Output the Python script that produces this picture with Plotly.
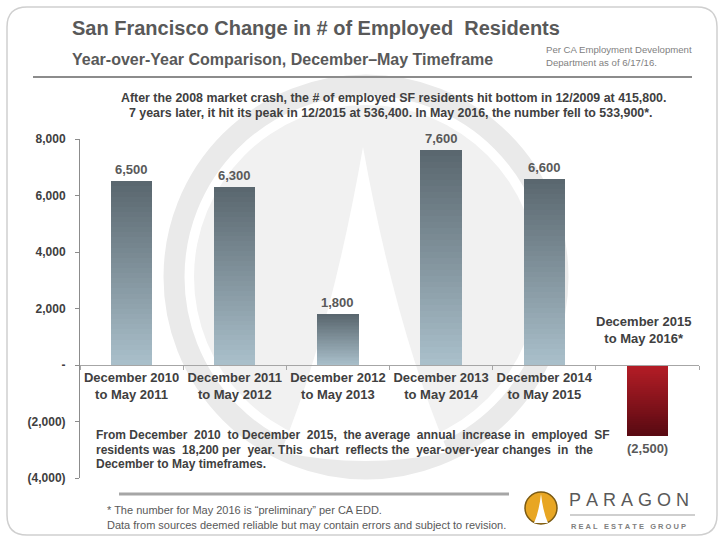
import plotly.graph_objects as go

# ---------------- data ----------------
periods = [
    "December 2010 to May 2011",
    "December 2011 to May 2012",
    "December 2012 to May 2013",
    "December 2013 to May 2014",
    "December 2014 to May 2015",
    "December 2015 to May 2016*",
]
tick_labels = [
    "December 2010<br>to May 2011",
    "December 2011<br>to May 2012",
    "December 2012<br>to May 2013",
    "December 2013<br>to May 2014",
    "December 2014<br>to May 2015",
    "",
]
last_label = "December 2015<br>to May 2016*"
values = [6500, 6300, 1800, 7600, 6600, -2500]
y_tickvals = [8000, 6000, 4000, 2000, 0, -2000, -4000]
y_ticktext = ["8,000", "6,000", "4,000", "2,000", "-", "(2,000)", "(4,000)"]

title = "San Francisco Change in # of Employed\u00a0 Residents"
subtitle = "Year-over-Year Comparison, December\u2013May Timeframe"
source_note = ["Per CA Employment Development", "Department as of 6/17/16."]
top_note = [
    "After the 2008 market crash, the # of employed SF residents hit bottom in 12/2009 at 415,800.",
    "7 years later, it hit its peak in 12/2015 at 536,400. In May 2016, the number fell to 533,900*.",
]
para = [
    "From December 2010 to December 2015, the average annual increase in employed SF",
    "residents was 18,200 per year. This chart reflects the year-over-year changes in the",
    "December to May timeframes.",
]
footnotes = [
    "* The number for May 2016 is \u201cpreliminary\u201d per CA EDD.",
    "Data from sources deemed reliable but may contain errors and subject to revision.",
]

# ---------------- layout geometry ----------------
W, H = 725, 544
ML, MR, MT, MB = 80, 26, 139, 66
PW, PH = W - ML - MR, H - MT - MB


def fx(p):
    return (p - ML) / PW


def fy(p):
    return (H - MB - p) / PH


FONT = "Liberation Sans, Arial, sans-serif"


def lerp(c1, c2, t):
    a = [int(c1[i:i + 2], 16) for i in (1, 3, 5)]
    b = [int(c2[i:i + 2], 16) for i in (1, 3, 5)]
    return "rgb(%d,%d,%d)" % tuple(round(a[j] + (b[j] - a[j]) * t) for j in range(3))


def justify(line, extra):
    """Widen a line by adding `extra` non-breaking spaces spread over its gaps."""
    words = line.split(" ")
    gaps = len(words) - 1
    out = words[0]
    for i in range(gaps):
        n_add = (extra * (i + 1)) // gaps - (extra * i) // gaps
        out += "\u00a0" * n_add + " " + words[i + 1]
    return out


GRAY_BOTTOM, GRAY_TOP = "#a9bfca", "#5a676f"
RED_NEAR, RED_FAR = "#b51d26", "#5a0a12"

fig = go.Figure()

# gradient bars built as stacked slices of each value
N = 36
for k in range(N):
    t = k / (N - 1)
    cols = [lerp(GRAY_BOTTOM, GRAY_TOP, t) if v >= 0 else lerp(RED_NEAR, RED_FAR, t) for v in values]
    fig.add_bar(
        x=periods,
        y=[v / N for v in values],
        marker=dict(color=cols, line=dict(width=0)),
        showlegend=False,
        hoverinfo="skip",
    )

ann = []
# value labels
for p, v in zip(periods, values):
    txt = f"{v:,}" if v >= 0 else f"({abs(v):,})"
    ann.append(dict(
        x=p, y=v, xref="x", yref="y", text=txt, showarrow=False,
        yanchor="bottom" if v >= 0 else "top", yshift=2 if v >= 0 else -3,
        font=dict(family=FONT, size=13, color="#595959", weight="bold"),
    ))
# label for the negative category (above the zero line)
ann.append(dict(
    x=periods[-1], y=0, xref="x", yref="y", text=last_label, showarrow=False,
    yanchor="bottom", yshift=17, xshift=-4,
    font=dict(family=FONT, size=13, color="#404040", weight="bold"),
))


def txt(x, y, s, size, color, bold=True, xanchor="left"):
    ann.append(dict(
        x=fx(x), y=fy(y), xref="paper", yref="paper", text=s, showarrow=False,
        xanchor=xanchor, yanchor="middle",
        font=dict(family=FONT, size=size, color=color, weight="bold" if bold else "normal"),
    ))


txt(70, 28, title, 20, "#595959")
txt(70, 59, subtitle, 16, "#595959")
txt(544, 50, source_note[0], 9.6, "#7f7f7f", False)
txt(544, 62, source_note[1], 9.6, "#7f7f7f", False)
txt(393, 98, top_note[0], 12.4, "#404040", xanchor="center")
txt(390, 113, top_note[1], 12.4, "#404040", xanchor="center")
txt(94, 435, justify(para[0], 8), 12, "#404040")
txt(94, 449.5, justify(para[1], 7), 12, "#404040")
txt(94, 464, para[2], 12, "#404040")
txt(105, 510, footnotes[0], 11, "#595959", False)
txt(105, 525, footnotes[1], 11, "#595959", False)
txt(567, 500, "P\u00a0A\u00a0R\u00a0A\u00a0G\u00a0O\u00a0N", 18, "#595959", bold=False)
txt(569, 526, "R\u00a0E\u00a0A\u00a0L\u00a0\u00a0\u00a0E\u00a0S\u00a0T\u00a0A\u00a0T\u00a0E\u00a0\u00a0\u00a0G\u00a0R\u00a0O\u00a0U\u00a0P", 7.5, "#808080")

shapes = []


def pline(x0, y0, x1, y1, color, width):
    shapes.append(dict(type="line", xref="paper", yref="paper", x0=fx(x0), y0=fy(y0),
                       x1=fx(x1), y1=fy(y1), line=dict(color=color, width=width), layer="below"))


def pcircle(cx, cy, r, fill, line_color=None, lw=0):
    shapes.append(dict(type="circle", xref="paper", yref="paper",
                       x0=fx(cx - r), x1=fx(cx + r), y0=fy(cy + r), y1=fy(cy - r),
                       fillcolor=fill, line=dict(color=line_color or "rgba(0,0,0,0)", width=lw),
                       layer="below"))


def ppath(points, fill, line_color=None, lw=0, layer="below"):
    d = ""
    for cmd, pts in points:
        d += cmd + " " + " ".join(f"{fx(a):.5f},{fy(b):.5f}" for a, b in pts) + " "
    shapes.append(dict(type="path", xref="paper", yref="paper", path=d + "Z",
                       fillcolor=fill, line=dict(color=line_color or "rgba(0,0,0,0)", width=lw),
                       layer=layer))


# watermark
cx, cy = 366, 277
pcircle(cx, cy, 192, "rgba(0,0,0,0)", "#eaeaea", 21)
pcircle(cx, cy, 172, "#f1f1f1")
ppath([("M", [(cx - 3, 147)]), ("Q", [(cx - 35, 330), (cx - 85, 452)]),
       ("Q", [(cx, 470), (cx + 82, 452)]), ("Q", [(cx + 30, 330), (cx - 3, 147)])], "#ffffff")

# rounded border
x0b, y0b, x1b, y1b, rr = 7, 7, 717, 535, 20
ppath([("M", [(x0b + rr, y0b)]), ("L", [(x1b - rr, y0b)]), ("Q", [(x1b, y0b), (x1b, y0b + rr)]),
       ("L", [(x1b, y1b - rr)]), ("Q", [(x1b, y1b), (x1b - rr, y1b)]),
       ("L", [(x0b + rr, y1b)]), ("Q", [(x0b, y1b), (x0b, y1b - rr)]),
       ("L", [(x0b, y0b + rr)]), ("Q", [(x0b, y0b), (x0b + rr, y0b)])],
      "rgba(0,0,0,0)", "#cfcfcf", 1.5)

# header / footer rules
pline(33, 77, 692, 77, "#8c8c8c", 2)
pline(119, 494, 509, 494, "#a6a6a6", 3)
pline(570, 515, 695, 515, "#a0a0a0", 1.2)

# logo
pcircle(541, 508, 16, "#e8a623", "#7b5a12", 1.5)
ppath([("M", [(541, 494)]), ("Q", [(539, 512), (534, 523)]), ("L", [(548, 523)]),
       ("Q", [(543, 512), (541, 494)])], "#ffffff", layer="above")

fig.update_layout(
    width=W, height=H,
    margin=dict(l=ML, r=MR, t=MT, b=MB, autoexpand=False),
    paper_bgcolor="#ffffff", plot_bgcolor="rgba(0,0,0,0)",
    barmode="stack", bargap=0.6,
    showlegend=False,
    annotations=ann, shapes=shapes,
    xaxis=dict(
        type="category", categoryorder="array", categoryarray=periods,
        range=[-0.5, 5.5], anchor="free", position=1 / 3,
        tickvals=periods, ticktext=tick_labels, tickangle=0,
        showline=True, linecolor="#a6a6a6", linewidth=1,
        ticks="outside", tickson="boundaries", ticklen=4, tickcolor="#a6a6a6",
        tickfont=dict(family=FONT, size=13, color="#404040", weight="bold"),
        showgrid=False, zeroline=False, fixedrange=True,
    ),
    yaxis=dict(
        range=[-4000, 8000], tickvals=y_tickvals, ticktext=y_ticktext,
        showline=True, linecolor="#8c8c8c", linewidth=1,
        ticks="outside", ticklen=4, tickcolor="#8c8c8c", ticklabelstandoff=7,
        tickfont=dict(family=FONT, size=12, color="#404040", weight="bold"),
        showgrid=False, zeroline=False, fixedrange=True,
    ),
)

fig.write_html(
    "out.html",
    config={"displayModeBar": False},
    post_script="document.body.style.margin='0';document.body.style.overflow='hidden';",
)
